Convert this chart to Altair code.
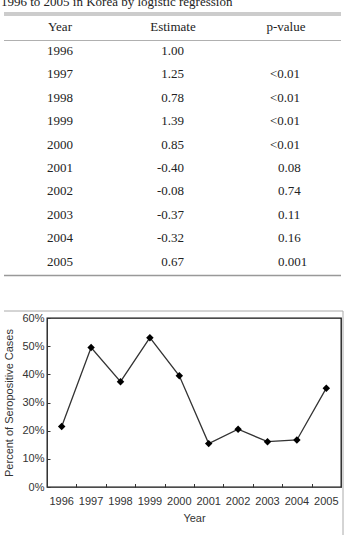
import altair as alt
import pandas as pd

# ---- table values -------------------------------------------------------
caption = "1996 to 2005 in Korea by logistic regression"
columns = ["Year", "Estimate", "p-value"]
years = ["1996", "1997", "1998", "1999", "2000",
         "2001", "2002", "2003", "2004", "2005"]
estimates = ["1.00", "1.25", "0.78", "1.39", "0.85",
             "-0.40", "-0.08", "-0.37", "-0.32", "0.67"]
p_values = ["", "<0.01", "<0.01", "<0.01", "<0.01",
            "0.08", "0.74", "0.11", "0.16", "0.001"]

# ---- chart values (share of seropositive cases per year) ----------------
seropositive = [0.215, 0.495, 0.374, 0.530, 0.395,
                0.154, 0.205, 0.161, 0.167, 0.351]
pct_ticks = [0, 0.1, 0.2, 0.3, 0.4, 0.5, 0.6]

SERIF = "Liberation Serif"
SANS = "Liberation Sans"
INK = "#222222"

# ---- table --------------------------------------------------------------
records = [dict(row=0, col=c, text=c, kind="head") for c in columns]
for i, (yr, est, p) in enumerate(zip(years, estimates, p_values), start=1):
    records.append(dict(row=i, col="Year", text=yr, kind="year"))
    records.append(dict(row=i, col="Estimate", text=est, kind="est"))
    if p:
        records.append(dict(row=i, col="p-value", text=p,
                            kind="p_lt" if p.startswith("<") else "p_num"))
cells = pd.DataFrame(records)

col_x = alt.X("col:N", scale=alt.Scale(type="point", domain=columns, padding=0.115), axis=None)
row_y = alt.Y("row:Q", scale=alt.Scale(domain=[-1.136, 11.136], reverse=True,
                                       nice=False, zero=False), axis=None)


def cell_layer(kind, align, dx):
    return (
        alt.Chart(cells)
        .transform_filter(alt.datum.kind == kind)
        .mark_text(align=align, dx=dx, baseline="middle", font=SERIF,
                   fontSize=13, color=INK)
        .encode(x=col_x, y=row_y, text="text:N")
    )


one = pd.DataFrame({"k": [0]})


def hline(y, color, width):
    return alt.Chart(one).mark_rule(color=color, strokeWidth=width).encode(
        x=alt.value(-43), x2=alt.value(294), y=alt.value(y))


caption_layer = (
    alt.Chart(pd.DataFrame({"t": [caption]}))
    .mark_text(align="left", baseline="alphabetic", font=SERIF, fontSize=13,
               color=INK)
    .encode(text="t:N", x=alt.value(-46), y=alt.value(5))
)

table = alt.layer(
    caption_layer,
    hline(12.5, "#999999", 1),
    hline(14.5, "#999999", 1),
    hline(40, "#b0b0b0", 1),
    hline(275, "#999999", 1.4),
    cell_layer("head", "center", 0),
    cell_layer("year", "left", -13),
    cell_layer("est", "right", 11),
    cell_layer("p_lt", "right", 14),
    cell_layer("p_num", "left", -8),
).properties(width=252, height=288, view=alt.ViewBackground(stroke="transparent"))

# ---- line chart ---------------------------------------------------------
df = pd.DataFrame({"year": years, "pct": seropositive})
x_scale = alt.Scale(type="band", domain=years, paddingInner=0, paddingOuter=0)
y_scale = alt.Scale(domain=[0, 0.6], nice=False, zero=True)

PLOT_W, PLOT_H = 294, 169

line = alt.Chart(df).mark_line(color="#333333", strokeWidth=1.3).encode(
    x=alt.X("year:O", scale=x_scale,
            axis=alt.Axis(title="Year", orient="bottom", ticks=False, tickSize=0,
                          domain=False, grid=False, labelAngle=0, labelPadding=8,
                          titlePadding=6, labelFont=SANS, labelFontSize=11,
                          labelColor="#333333", titleFont=SANS, titleFontSize=11,
                          titleFontWeight="normal", titleColor="#333333")),
    y=alt.Y("pct:Q", scale=y_scale,
            axis=alt.Axis(title="Percent of Seropositive Cases", orient="left",
                          values=pct_ticks, format=".0%", ticks=False, tickSize=0,
                          domain=False, grid=False, labelPadding=3, titlePadding=7,
                          labelFont=SANS, labelFontSize=11, labelColor="#333333",
                          titleFont=SANS, titleFontSize=11, titleFontWeight="normal",
                          titleColor="#333333")),
)

# diamonds; their axes only carry the short inward tick marks
points = alt.Chart(df).mark_point(shape="diamond", filled=True, size=56,
                                  color="#000000", opacity=1).encode(
    x=alt.X("year:O", scale=x_scale,
            axis=alt.Axis(orient="top", offset=-PLOT_H, labels=False, domain=False,
                          ticks=True, tickSize=3.5, tickBand="extent",
                          tickColor="#333333", grid=False, title=None)),
    y=alt.Y("pct:Q", scale=y_scale,
            axis=alt.Axis(orient="right", offset=-PLOT_W, labels=False, domain=False,
                          ticks=True, tickSize=3, values=pct_ticks,
                          tickColor="#333333", grid=False, title=None)),
)

frame_top = alt.Chart(one).mark_rule(color="#aaaaaa", strokeWidth=1).encode(
    x=alt.value(-43), x2=alt.value(296), y=alt.value(-7))
frame_right = alt.Chart(one).mark_rule(color="#aaaaaa", strokeWidth=1).encode(
    x=alt.value(296), y=alt.value(-7), y2=alt.value(217))

plot = (
    alt.layer(frame_top, frame_right, line, points)
    .resolve_axis(x="independent", y="independent")
    .properties(width=PLOT_W, height=PLOT_H,
                view=alt.ViewBackground(stroke="#111111", strokeWidth=1.3))
)

chart = alt.vconcat(table, plot, spacing=19.5).properties(
    padding={"left": 0, "top": -5.5, "right": 0, "bottom": 0},
    background="white")

chart.save("out.html", embed_options={"renderer": "svg", "actions": False})
